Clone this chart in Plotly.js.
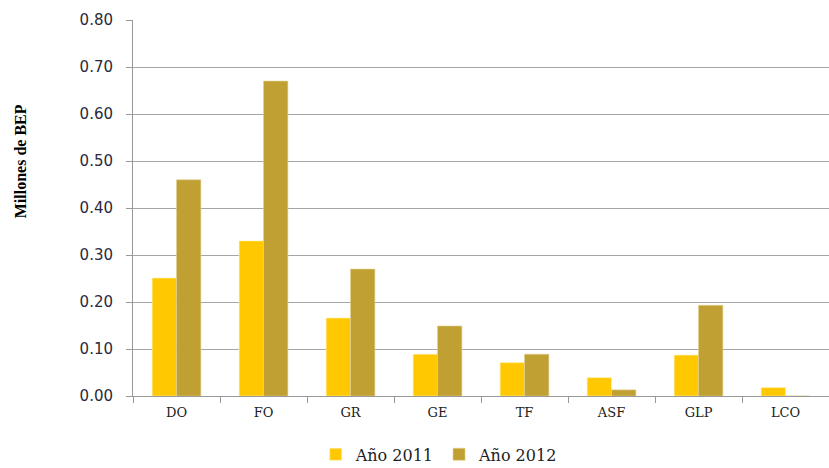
<!DOCTYPE html>
<html>
<head>
<meta charset="utf-8">
<script src="https://cdn.plot.ly/plotly-3.0.1.min.js"></script>
<style>html,body{margin:0;padding:0;background:#fff;}#chart{width:829px;height:468px;}</style>
</head>
<body>
<div id="chart"></div>
<script>
const categories = ["DO", "FO", "GR", "GE", "TF", "ASF", "GLP", "LCO"];
const seriesNames = ["Año 2011", "Año 2012"];
const values2011 = [0.251, 0.330, 0.166, 0.089, 0.071, 0.039, 0.087, 0.018];
const values2012 = [0.460, 0.670, 0.270, 0.149, 0.089, 0.013, 0.193, 0];
const yTickVals = [0, 0.1, 0.2, 0.3, 0.4, 0.5, 0.6, 0.7, 0.8];
const yTickText = ["0.00", "0.10", "0.20", "0.30", "0.40", "0.50", "0.60", "0.70", "0.80"];
const yTitle = "Millones de BEP";

const traces = [
  {type: "bar", name: seriesNames[0], x: categories, y: values2011,
   marker: {color: "#FFC800", line: {color: "#FFF2B0", width: 0.6}}},
  {type: "bar", name: seriesNames[1], x: categories, y: values2012,
   marker: {color: "#C0A032", line: {color: "#E0D090", width: 0.6}}}
];

const layout = {
  width: 829, height: 468,
  margin: {l: 133, r: 0, t: 20, b: 72, autoexpand: false},
  paper_bgcolor: "#fff", plot_bgcolor: "#fff",
  barmode: "group", bargap: 0.44, bargroupgap: 0,
  showlegend: true,
  legend: {orientation: "h", x: 0.44, xanchor: "center", y: -0.11, yanchor: "top",
           font: {family: "DejaVu Serif", size: 16, color: "#222"}, itemwidth: 30, tracegroupgap: 0,
           traceorder: "normal"},
  xaxis: {
    type: "category", tickson: "boundaries", ticks: "outside", ticklen: 6, tickcolor: "#999",
    showline: true, linecolor: "#999", linewidth: 1, showgrid: false, ticklabelstandoff: 4,
    tickfont: {family: "DejaVu Serif", size: 13, color: "#222"}
  },
  yaxis: {
    range: [0, 0.8], tickvals: yTickVals, ticktext: yTickText,
    ticks: "outside", ticklen: 6, tickcolor: "#999", ticklabelstandoff: 10,
    showline: true, linecolor: "#999", linewidth: 1,
    showgrid: true, gridcolor: "#A6A6A6", gridwidth: 1, zeroline: false,
    tickfont: {family: "DejaVu Sans", size: 15, color: "#2a2a3a"}
  },
  annotations: [{
    text: "<b>" + yTitle + "</b>", xref: "paper", yref: "paper", x: -0.162, y: 0.625,
    xanchor: "center", yanchor: "middle", textangle: -90, showarrow: false,
    font: {family: "Liberation Serif", size: 16, color: "#000"}
  }],
  font: {family: "DejaVu Sans"}
};

Plotly.newPlot("chart", traces, layout, {displayModeBar: false, staticPlot: true});
</script>
</body>
</html>
